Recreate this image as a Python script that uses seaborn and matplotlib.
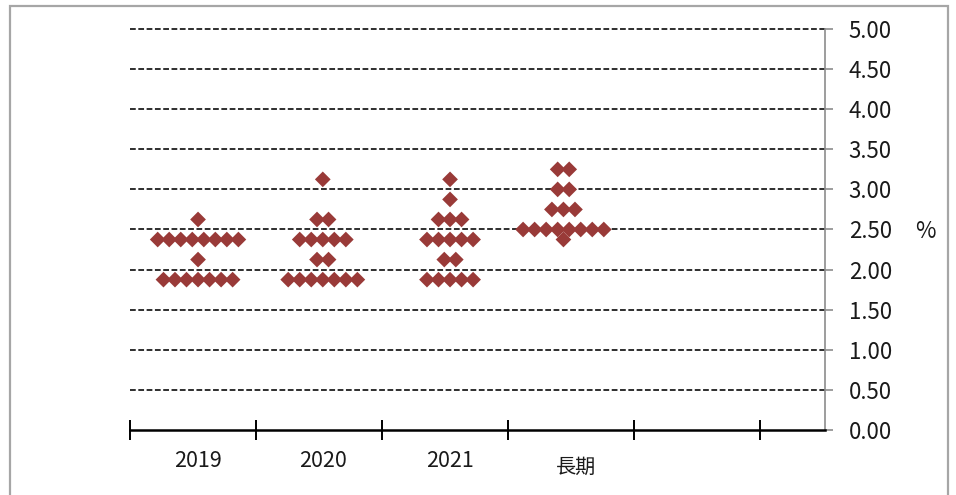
import matplotlib
matplotlib.use("Agg")
import matplotlib.pyplot as plt
import numpy as np
import pandas as pd
import seaborn as sns
from matplotlib.patches import Rectangle

# FOMC participants' projections of the federal funds rate (midpoint, %)
categories = ["2019", "2020", "2021", "長期"]

rates_2019 = [2.625, 2.375, 2.125, 1.875]
counts_2019 = [1, 8, 1, 7]

rates_2020 = [3.125, 2.625, 2.375, 2.125, 1.875]
counts_2020 = [1, 2, 5, 2, 7]

rates_2021 = [3.125, 2.875, 2.625, 2.375, 2.125, 1.875]
counts_2021 = [1, 1, 3, 5, 2, 5]

rates_longrun = [3.25, 3.00, 2.75, 2.50, 2.375]
counts_longrun = [2, 2, 3, 8, 1]

y_ticks = [0.0, 0.5, 1.0, 1.5, 2.0, 2.5, 3.0, 3.5, 4.0, 4.5, 5.0]

# layout: cluster centres, label centres and horizontal dot spacing (axis units)
cluster_pos = [0.04, 1.03, 2.04, 2.94]
label_pos = [0.04, 1.03, 2.04, 3.04]
dot_step = 0.0915

series = [(rates_2019, counts_2019), (rates_2020, counts_2020),
          (rates_2021, counts_2021), (rates_longrun, counts_longrun)]

rows = []
for cat, centre, (rates, counts) in zip(categories, cluster_pos, series):
    for r, n in zip(rates, counts):
        for k in range(n):
            rows.append({"category": cat, "x": centre + (k - (n - 1) / 2) * dot_step, "rate": r})
df = pd.DataFrame(rows)

sns.set_theme(style="white")
plt.rcParams["font.family"] = ["Noto Sans CJK TC", "DejaVu Sans"]

fig = plt.figure(figsize=(9.56, 4.95), dpi=100)
ax = fig.add_axes([130 / 956, 65 / 495, 695 / 956, 401 / 495])

sns.scatterplot(data=df, x="x", y="rate", marker="D", s=64, color="#993a38",
                edgecolor="none", linewidth=0, ax=ax, legend=False, zorder=3)

ax.set_xlim(-0.5, -0.5 + 695 / 126)
ax.set_ylim(0, 5)

# dashed horizontal gridlines
for v in y_ticks[1:]:
    ax.axhline(v, color="black", lw=1.15, linestyle=(0, (3.6, 1.6)), zorder=1,
               clip_on=False)

# right-hand value axis
ax.yaxis.tick_right()
ax.set_yticks(y_ticks)
ax.set_yticklabels([f"{v:.2f}" for v in y_ticks], fontsize=16, color="#1a1a1a")
ax.tick_params(axis="y", which="major", right=True, left=False, direction="out",
               length=6, width=1.2, color="#8c8c8c", pad=11)

# category axis with boundary ticks
ax.set_xticks(np.arange(-0.5, 5.0, 1.0))
ax.set_xticklabels([])
ax.tick_params(axis="x", which="major", bottom=True, top=False, direction="inout",
               length=14, width=1.4, color="black")

for spine in ["left", "top"]:
    ax.spines[spine].set_visible(False)
ax.spines["bottom"].set_color("black")
ax.spines["bottom"].set_linewidth(1.8)
ax.spines["right"].set_color("#8c8c8c")
ax.spines["right"].set_linewidth(1.2)

ax.set_xlabel("")
ax.set_ylabel("")

for cat, lx in zip(categories, label_pos):
    ytxt = -0.078 if cat != "長期" else -0.094
    fs = 15.5 if cat != "長期" else 14.5
    ax.text(lx, ytxt, cat, transform=ax.get_xaxis_transform(), ha="center",
            va="center", fontsize=fs, color="#1a1a1a")

fig.text(925 / 956, (495 - 232) / 495, "%", ha="center", va="center",
         fontsize=16, color="#1a1a1a")

# outer frame
fig.patches.append(Rectangle((10 / 956, -0.05), 938 / 956, 1.05 - 6 / 495,
                             transform=fig.transFigure, fill=False,
                             edgecolor="#a6a6a6", linewidth=1.6))

fig.savefig("out.png", dpi=100)
